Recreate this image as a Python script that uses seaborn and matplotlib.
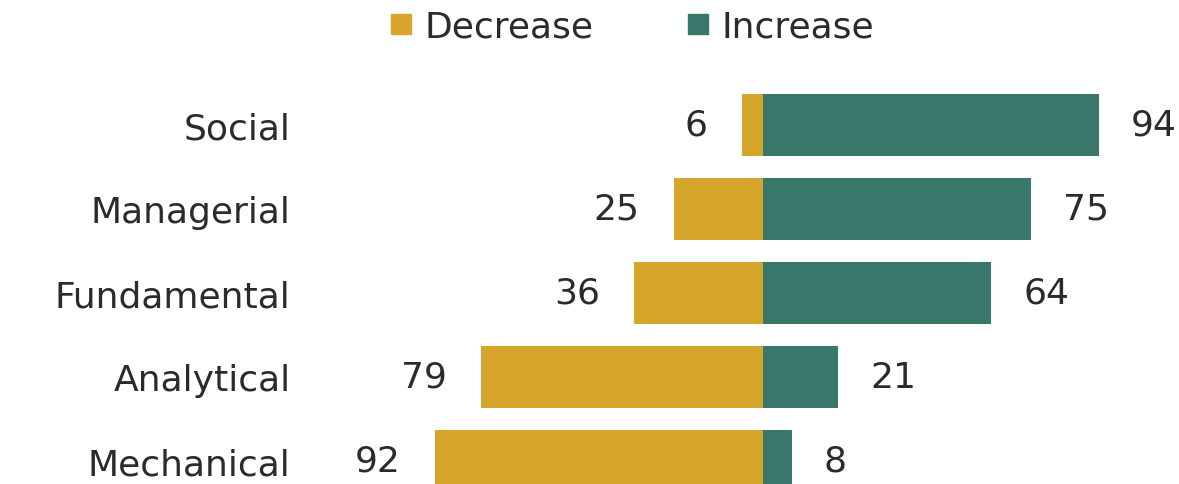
import matplotlib
matplotlib.use("Agg")
import matplotlib.pyplot as plt
from matplotlib.lines import Line2D
import pandas as pd
import seaborn as sns

# Share of skills expected to decrease / increase in importance
categories = ["Social", "Managerial", "Fundamental", "Analytical", "Mechanical"]
decrease = [6, 25, 36, 79, 92]
increase = [94, 75, 64, 21, 8]

GOLD = "#D5A52C"
TEAL = "#38786A"
TEXT = "#2b2b2b"

rows = []
for c, d, i in zip(categories, decrease, increase):
    rows.append({"Skill": c, "Direction": "Decrease", "Share": -d})
    rows.append({"Skill": c, "Direction": "Increase", "Share": i})
df = pd.DataFrame(rows)

sns.set_theme(style="white")
plt.rcParams["font.family"] = ["DejaVu Sans"]

W, H, DPI = 1179, 485, 100
fig = plt.figure(figsize=(W / DPI, H / DPI), dpi=DPI)

# axes area in pixels: from x=310 to the right edge, full height
left_px = 310
ax = fig.add_axes([left_px / W, 0, 1 - left_px / W, 1])

sns.barplot(data=df, y="Skill", x="Share", hue="Direction", order=categories,
            hue_order=["Decrease", "Increase"], palette=[GOLD, TEAL],
            dodge=False, orient="h", width=0.74, saturation=1,
            linewidth=0, legend=False, ax=ax)

# scale: zero at x=763 px, 3.57 px per percentage point
zero_px, ppu = 763, 3.57
ax.set_xlim((left_px - zero_px) / ppu, (W - zero_px) / ppu)
# row spacing 84 px, first row centred at y=127 px
ax.set_ylim((H - 126) / 84, -126 / 84)

FS = 26
for s in ax.spines.values():
    s.set_visible(False)
ax.set_xticks([])
ax.set_xlabel("")
ax.set_ylabel("")
ax.tick_params(axis="y", length=0, pad=14, labelsize=FS, labelcolor=TEXT)

for k, (d, i) in enumerate(zip(decrease, increase)):
    ax.annotate(str(d), xy=(-d, k), xytext=(-34, 0), textcoords="offset pixels",
                ha="right", va="center", fontsize=FS, color=TEXT)
    off = 32 if zero_px + i * ppu + 32 + 48 < W else 18
    ax.annotate(str(i), xy=(i, k), xytext=(off, 0), textcoords="offset pixels",
                ha="left", va="center", fontsize=FS, color=TEXT)

handles = [Line2D([], [], marker="s", linestyle="none", markersize=15,
                  markerfacecolor=GOLD, markeredgecolor=GOLD, label="Decrease"),
           Line2D([], [], marker="s", linestyle="none", markersize=15,
                  markerfacecolor=TEAL, markeredgecolor=TEAL, label="Increase")]
leg = fig.legend(handles=handles, loc="center", bbox_to_anchor=(632 / W, 1 - 28 / H),
                 ncol=2, frameon=False, fontsize=FS, handlelength=0.6,
                 handletextpad=0.35, columnspacing=2.6, borderaxespad=0)
for t in leg.get_texts():
    t.set_color(TEXT)

fig.savefig("out.png", dpi=DPI)
